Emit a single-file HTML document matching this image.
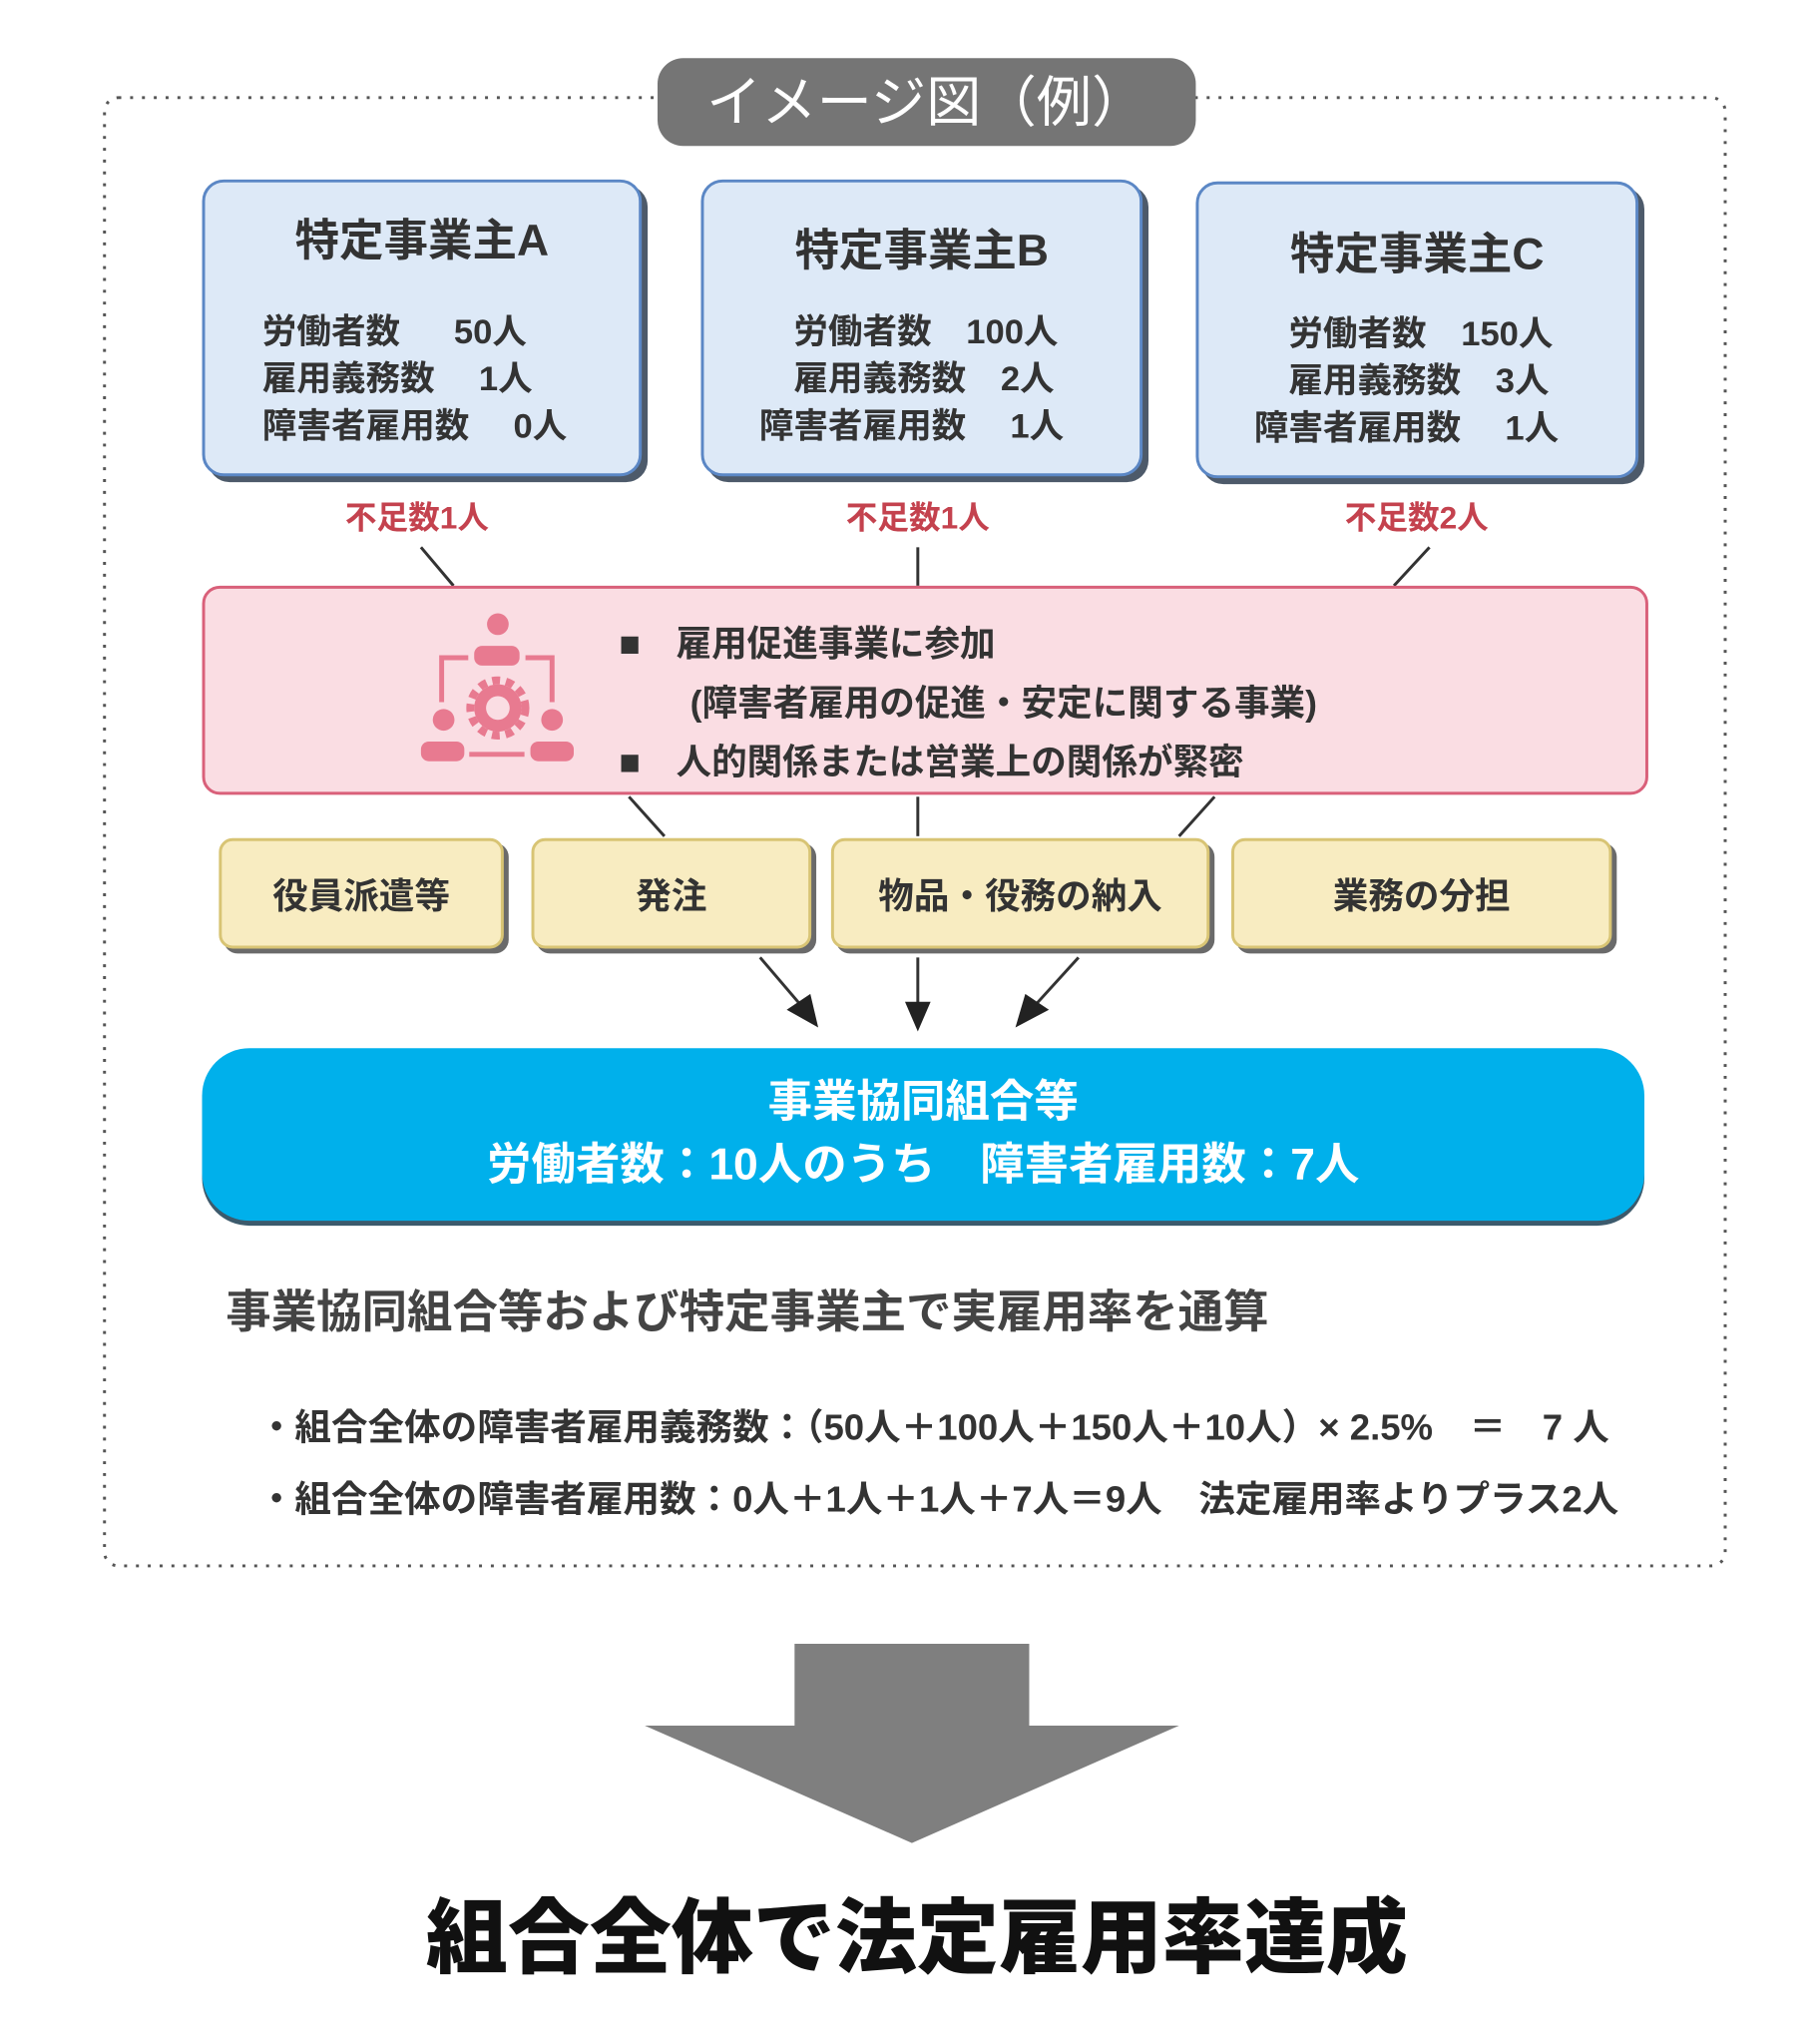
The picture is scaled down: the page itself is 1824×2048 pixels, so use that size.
<!DOCTYPE html>
<html><head><meta charset="utf-8"><style>
*{margin:0;padding:0;box-sizing:border-box}
body{width:1824px;height:2048px;background:#fff;position:relative;overflow:hidden;font-family:"Liberation Sans","Noto Sans CJK JP",sans-serif;font-weight:700}
#w{position:absolute;left:0;top:0;width:1824px;height:2048px;transform:scale(0.988);transform-origin:0 0}
.a{position:absolute}
.c{text-align:center;white-space:nowrap}
.emp{background:#dde9f7;border:3px solid #5b87c5;border-radius:22px;box-shadow:6px 6px 0 #4d5a6a}
.emp .t{font-size:45px;color:#333;position:absolute;left:0;right:0;text-align:center}
.emp .d{position:absolute;font-size:35px;color:#333;line-height:48px;white-space:pre}
.red{color:#c4424e;font-size:32px}
.yb{background:#f8ecc1;border:3px solid #d8c474;border-radius:14px;box-shadow:5px 5px 0 #6a6a6a;font-size:36px;color:#333;display:flex;align-items:center;justify-content:center}
</style></head><body><div id="w">
<svg class="a" style="left:0;top:0" width="1824" height="2048">
<rect x="106" y="99" width="1644" height="1489" rx="14" fill="none" stroke="#555" stroke-width="3" stroke-dasharray="3 9"/>
<g stroke="#333" stroke-width="3" fill="none">
<line x1="427" y1="555" x2="460" y2="594"/>
<line x1="931" y1="555" x2="931" y2="594"/>
<line x1="1450" y1="555" x2="1414" y2="594"/>
<line x1="638" y1="808" x2="674" y2="848"/>
<line x1="931" y1="808" x2="931" y2="848"/>
<line x1="1232" y1="808" x2="1196" y2="848"/>
<line x1="771" y1="971" x2="818" y2="1026"/>
<line x1="931" y1="971" x2="931" y2="1028"/>
<line x1="1094" y1="971" x2="1044" y2="1026"/>
</g>
<g fill="#222">
<polygon points="830,1042 798,1024 822,1008"/>
<polygon points="931,1046 918,1016 944,1016"/>
<polygon points="1030,1042 1040,1008 1064,1024"/>
</g>
<polygon points="806,1667 1044,1667 1044,1750 1196,1750 925,1869 654,1750 806,1750" fill="#7f7f7f"/>
</svg>
<div class="a c" style="left:667px;top:59px;width:546px;height:89px;background:#757575;border-radius:26px;color:#fff;font-size:56px;font-weight:400;line-height:89px">イメージ図（例）</div>

<div class="a emp" style="left:205px;top:182px;width:446px;height:301px">
<div class="t" style="top:22px">特定事業主A</div>
<div class="d" style="left:58px;top:128px">労働者数　  50人
雇用義務数　 1人
障害者雇用数　 0人</div></div>
<div class="a emp" style="left:711px;top:182px;width:448px;height:301px">
<div class="t" style="top:32px">特定事業主B</div>
<div class="d" style="left:56px;top:128px">　労働者数　100人
　雇用義務数　2人
障害者雇用数　 1人</div></div>
<div class="a emp" style="left:1213px;top:184px;width:449px;height:301px">
<div class="t" style="top:34px">特定事業主C</div>
<div class="d" style="left:56px;top:128px">　労働者数　150人
　雇用義務数　3人
障害者雇用数　 1人</div></div>

<div class="a c red" style="left:323px;top:500px;width:200px">不足数1人</div>
<div class="a c red" style="left:831px;top:500px;width:200px">不足数1人</div>
<div class="a c red" style="left:1337px;top:500px;width:200px">不足数2人</div>

<div class="a" style="left:205px;top:594px;width:1467px;height:212px;background:#fadde3;border:3px solid #d9607a;border-radius:18px"></div>
<svg class="a" style="left:410px;top:600px" width="220" height="200">
<g fill="#e87a90" stroke="none">
<circle cx="95" cy="33" r="11"/><rect x="71" y="55" width="46" height="20" rx="8"/>
<circle cx="40" cy="130" r="11"/><rect x="17" y="152" width="44" height="20" rx="8"/>
<circle cx="150" cy="130" r="11"/><rect x="128" y="152" width="44" height="20" rx="8"/>
<circle cx="95" cy="118" r="24"/></g>
<circle cx="95" cy="118" r="12" fill="#fadde3"/>
<g stroke="#e87a90" stroke-width="5" fill="none">
<circle cx="95" cy="118" r="28" stroke-dasharray="8 6" stroke-width="8"/>
<path d="M65 67 H38 V112"/><path d="M123 67 H150 V112"/><line x1="66" y1="165" x2="122" y2="165"/></g>
</svg>
<div class="a" style="left:628px;top:623px;font-size:36px;color:#333;line-height:60px;white-space:pre">■　雇用促進事業に参加
　　(障害者雇用の促進・安定に関する事業)
■　人的関係または営業上の関係が緊密</div>

<div class="a yb" style="left:222px;top:850px;width:289px;height:112px">役員派遣等</div>
<div class="a yb" style="left:539px;top:850px;width:284px;height:112px">発注</div>
<div class="a yb" style="left:843px;top:850px;width:384px;height:112px">物品・役務の納入</div>
<div class="a yb" style="left:1249px;top:850px;width:386px;height:112px">業務の分担</div>

<div class="a c" style="left:205px;top:1063px;width:1463px;height:175px;background:#00b0eb;border-radius:48px;box-shadow:0 5px 0 #3c5a6c;color:#fff;font-size:45px;line-height:64px;padding-top:22px">事業協同組合等<br>労働者数：10人のうち　障害者雇用数：7人</div>

<div class="a" style="left:229px;top:1294px;font-size:46px;color:#444;white-space:nowrap">事業協同組合等および特定事業主で実雇用率を通算</div>
<div class="a" style="left:262px;top:1417px;font-size:37px;color:#333;white-space:nowrap">・組合全体の障害者雇用義務数：（50人＋100人＋150人＋10人）× 2.5%　＝　7 人</div>
<div class="a" style="left:262px;top:1490px;font-size:37px;color:#333;white-space:nowrap">・組合全体の障害者雇用数：0人＋1人＋1人＋7人＝9人　法定雇用率よりプラス2人</div>

<div class="a c" style="left:0;top:1898px;width:1860px;font-size:83px;font-weight:900;color:#111">組合全体で法定雇用率達成</div>
</div></body></html>
